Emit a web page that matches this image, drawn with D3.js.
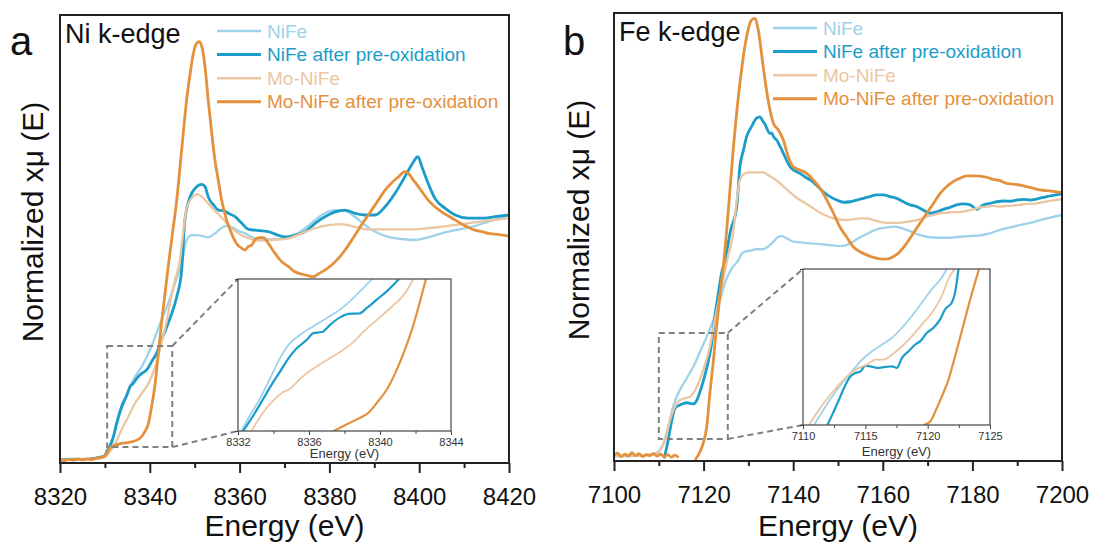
<!DOCTYPE html>
<html>
<head>
<meta charset="utf-8">
<title>Ni and Fe k-edge XANES</title>
<script src="https://d3js.org/d3.v7.min.js"></script>
<style>
  body { margin: 0; background: white; }
  svg { font-family: Arial, "Liberation Sans", sans-serif; }
</style>
</head>
<body>
<svg id="chart" width="1093" height="545"></svg>
<script>
// ---- data: [energy (eV), normalized xmu] ----
const seriesNames = ["NiFe", "NiFe after pre-oxidation", "Mo-NiFe", "Mo-NiFe after pre-oxidation"];
const seriesColors = ["#9dd2ea", "#1b9cc9", "#ebc6a2", "#e3913d"];

// Ni k-edge
const niNiFe = [[8320,0.004],[8323,0.002],[8326,0.006],[8328,0.01],[8330,0.02],[8330.4,0.036],[8331.1,0.063],[8332.3,0.125],[8333.4,0.193],[8334.5,0.247],[8335.6,0.302],[8336.7,0.342],[8338.2,0.383],[8339.7,0.438],[8341.2,0.506],[8342.6,0.574],[8344.1,0.642],[8345.6,0.724],[8347.1,0.806],[8348.2,0.90],[8349.3,0.921],[8350.4,0.921],[8351.6,0.918],[8353.0,0.912],[8354.5,0.928],[8356.0,0.951],[8357.1,0.959],[8358.2,0.955],[8359.4,0.941],[8361.2,0.928],[8363.4,0.908],[8366.4,0.903],[8370.1,0.908],[8372.3,0.921],[8374.6,0.949],[8376.8,0.983],[8379.0,1.010],[8381.3,1.023],[8383.5,1.020],[8385.7,0.996],[8387.9,0.962],[8390.2,0.935],[8393.1,0.914],[8396.1,0.905],[8399.1,0.901],[8402.0,0.912],[8405.0,0.928],[8408.0,0.941],[8411.7,0.955],[8415.4,0.976],[8420,1.003]];
const niNiFeOx = [[8320,0.002],[8323,0.006],[8326,0.004],[8328,0.01],[8330,0.02],[8330.4,0.036],[8331.1,0.057],[8331.9,0.097],[8332.6,0.152],[8333.7,0.220],[8334.9,0.268],[8335.6,0.302],[8336.3,0.315],[8337.1,0.336],[8338.2,0.356],[8339.3,0.370],[8340.4,0.404],[8341.5,0.438],[8342.6,0.492],[8343.8,0.547],[8344.9,0.601],[8346.0,0.669],[8347.1,0.778],[8347.8,0.98],[8349.0,1.078],[8350.1,1.112],[8351.6,1.128],[8352.3,1.119],[8353.0,1.078],[8354.2,1.044],[8355.3,1.023],[8356.4,1.021],[8357.5,1.010],[8359.0,0.996],[8360.5,0.969],[8362.0,0.944],[8363.4,0.941],[8366.4,0.935],[8370.1,0.914],[8372.3,0.921],[8374.6,0.935],[8376.8,0.969],[8379.0,0.996],[8381.3,1.016],[8383.5,1.023],[8385.7,1.010],[8387.9,1.003],[8390.2,1.003],[8392.4,1.037],[8394.6,1.091],[8396.8,1.159],[8398.3,1.207],[8399.7,1.241],[8400.6,1.200],[8402.0,1.132],[8403.5,1.071],[8405.8,1.030],[8408.0,1.003],[8410.9,0.990],[8413.9,0.990],[8416.9,0.996],[8420,1.003]];
const niMoNiFe = [[8320,0.0],[8323,0.004],[8326,0.002],[8328,0.006],[8330,0.014],[8330.8,0.029],[8332.3,0.070],[8333.7,0.125],[8335.2,0.179],[8336.7,0.234],[8338.2,0.274],[8339.7,0.315],[8341.2,0.383],[8342.6,0.479],[8343.8,0.574],[8344.5,0.642],[8345.6,0.737],[8346.7,0.819],[8347.1,0.88],[8348.2,1.030],[8349.3,1.071],[8350.4,1.088],[8351.6,1.078],[8353.0,1.050],[8354.5,1.021],[8356.0,0.993],[8357.5,0.962],[8359.7,0.928],[8362.0,0.908],[8364.2,0.898],[8367.1,0.901],[8370.9,0.908],[8373.8,0.928],[8376.8,0.949],[8379.8,0.962],[8382.7,0.966],[8385.7,0.955],[8388.7,0.944],[8391.6,0.944],[8396.1,0.944],[8399.1,0.944],[8402.0,0.949],[8405.0,0.955],[8409.5,0.966],[8413.9,0.976],[8420,0.990]];
const niMoNiFeOx = [[8320,0.004],[8321,0.0],[8322,0.006],[8323,0.002],[8324,0.007],[8325,0.003],[8326,0.008],[8327,0.004],[8328,0.01],[8329,0.012],[8330,0.018],[8331.1,0.050],[8332.5,0.064],[8333.7,0.070],[8335.9,0.076],[8337.8,0.091],[8338.9,0.118],[8339.7,0.152],[8340.4,0.220],[8341.2,0.315],[8341.9,0.438],[8342.6,0.560],[8343.4,0.683],[8344.1,0.793],[8345.0,0.92],[8346.0,1.064],[8347.1,1.269],[8348.2,1.473],[8349.0,1.582],[8349.7,1.663],[8350.4,1.704],[8351.0,1.711],[8351.6,1.690],[8352.3,1.609],[8353.0,1.473],[8353.8,1.337],[8354.5,1.228],[8355.3,1.139],[8356.0,1.064],[8357.1,0.983],[8358.2,0.928],[8359.3,0.887],[8360.5,0.867],[8361.2,0.860],[8361.9,0.874],[8362.7,0.880],[8363.4,0.901],[8364.3,0.911],[8365.3,0.911],[8366.4,0.887],[8367.9,0.846],[8369.4,0.812],[8370.9,0.792],[8372.3,0.771],[8373.8,0.762],[8375.3,0.755],[8376.4,0.751],[8377.5,0.762],[8379.0,0.778],[8380.5,0.799],[8382.0,0.826],[8383.5,0.860],[8385.0,0.901],[8386.4,0.941],[8387.9,0.983],[8389.4,1.023],[8390.9,1.064],[8392.4,1.105],[8393.9,1.135],[8395.4,1.159],[8396.8,1.180],[8397.6,1.173],[8398.7,1.146],[8399.8,1.119],[8400.9,1.091],[8402.0,1.064],[8403.5,1.037],[8405.0,1.016],[8406.5,0.999],[8408.0,0.983],[8409.5,0.966],[8410.9,0.953],[8412.4,0.941],[8413.9,0.935],[8415.4,0.928],[8416.9,0.925],[8420,0.917]];

// Ni inset (fraction of inset height)
const niInsetNiFe = [[8332.19,0],[8332.66,0.10],[8333.23,0.211],[8333.80,0.344],[8334.36,0.478],[8334.93,0.578],[8335.50,0.633],[8336.25,0.689],[8337.01,0.744],[8337.77,0.80],[8338.33,0.856],[8338.90,0.922],[8339.56,1.0]];
const niInsetNiFeOx = [[8332.28,0],[8332.85,0.1],[8333.42,0.211],[8333.98,0.322],[8334.36,0.389],[8334.84,0.478],[8335.31,0.544],[8335.88,0.6],[8336.25,0.644],[8336.73,0.651],[8337.20,0.7],[8337.77,0.749],[8338.24,0.771],[8338.81,0.773],[8339.28,0.811],[8339.85,0.867],[8340.41,0.922],[8341.07,1.0]];
const niInsetMoNiFe = [[8332.76,0],[8333.42,0.122],[8333.98,0.2],[8334.55,0.256],[8334.93,0.278],[8335.50,0.344],[8336.25,0.411],[8337.01,0.467],[8337.77,0.522],[8338.43,0.578],[8339.09,0.656],[8339.85,0.733],[8340.60,0.811],[8341.36,0.9],[8341.89,1.0]];
const niInsetMoNiFeOx = [[8337.39,0],[8337.95,0.033],[8338.71,0.078],[8339.37,0.122],[8339.85,0.189],[8340.41,0.278],[8340.89,0.389],[8341.36,0.522],[8341.83,0.678],[8342.21,0.833],[8342.59,1.0]];

// Fe k-edge
const feNiFe = [[7100,0.008],[7103,0.01],[7106,0.012],[7108,0.016],[7109.9,0.028],[7111.0,0.062],[7112.1,0.130],[7113.2,0.212],[7114.7,0.280],[7116.2,0.327],[7117.7,0.375],[7119.2,0.436],[7120.7,0.498],[7122.2,0.566],[7123.7,0.650],[7125.0,0.73],[7126.4,0.78],[7127.8,0.811],[7128.5,0.838],[7129.2,0.845],[7130.4,0.849],[7131.8,0.855],[7133.3,0.855],[7134.4,0.866],[7135.6,0.886],[7136.7,0.906],[7137.4,0.909],[7138.5,0.900],[7140.0,0.886],[7141.5,0.883],[7143.8,0.879],[7146.0,0.876],[7148.2,0.872],[7150.4,0.868],[7151.9,0.872],[7153.4,0.886],[7154.9,0.904],[7156.4,0.917],[7157.9,0.931],[7159.4,0.940],[7160.9,0.944],[7162.4,0.947],[7163.8,0.943],[7165.3,0.934],[7166.8,0.923],[7168.3,0.913],[7169.8,0.906],[7171.3,0.903],[7172.8,0.902],[7175.0,0.902],[7177.2,0.906],[7179.5,0.909],[7181.7,0.912],[7183.9,0.920],[7186.2,0.934],[7188.4,0.944],[7190.6,0.954],[7192.9,0.963],[7195.1,0.974],[7197.3,0.984],[7200,0.995]];
const feNiFeOx = [[7111.2,0.0],[7112.1,0.076],[7112.9,0.157],[7113.6,0.205],[7114.7,0.219],[7115.5,0.225],[7116.2,0.228],[7117.0,0.225],[7117.7,0.223],[7118.5,0.239],[7119.2,0.273],[7120.3,0.341],[7121.1,0.402],[7121.8,0.470],[7122.5,0.580],[7123.3,0.675],[7124.0,0.757],[7124.8,0.811],[7126.0,0.93],[7127.4,1.029],[7128.1,1.192],[7128.9,1.260],[7129.6,1.315],[7130.7,1.356],[7131.8,1.390],[7132.6,1.396],[7133.3,1.376],[7133.7,1.366],[7134.1,1.349],[7134.8,1.328],[7135.2,1.33],[7135.6,1.315],[7136.3,1.301],[7137.1,1.274],[7137.8,1.247],[7138.5,1.219],[7139.3,1.192],[7140.0,1.179],[7140.8,1.172],[7141.5,1.165],[7142.6,1.151],[7143.8,1.138],[7145.2,1.117],[7146.7,1.090],[7148.2,1.070],[7149.7,1.056],[7151.2,1.047],[7152.7,1.049],[7154.2,1.056],[7155.7,1.063],[7157.1,1.070],[7158.6,1.077],[7160.1,1.077],[7161.6,1.070],[7163.1,1.063],[7164.6,1.049],[7166.1,1.036],[7167.6,1.029],[7169.0,1.015],[7170.5,1.002],[7172.0,1.008],[7173.5,1.018],[7175.0,1.026],[7176.5,1.036],[7178.0,1.040],[7179.5,1.036],[7181.0,1.018],[7182.4,1.036],[7183.9,1.042],[7185.4,1.049],[7186.9,1.052],[7188.4,1.051],[7189.9,1.056],[7191.4,1.059],[7192.9,1.056],[7194.3,1.060],[7196.6,1.070],[7200,1.081]];
const feMoNiFe = [[7100,0.01],[7103,0.012],[7106,0.012],[7108,0.016],[7109.5,0.021],[7110.6,0.042],[7111.4,0.076],[7112.5,0.157],[7113.6,0.212],[7114.7,0.239],[7115.8,0.246],[7117.0,0.253],[7118.5,0.293],[7119.9,0.361],[7121.4,0.457],[7122.5,0.566],[7123.7,0.675],[7124.8,0.770],[7125.5,0.830],[7126.6,0.920],[7127.4,1.056],[7128.1,1.138],[7129.2,1.165],[7130.4,1.169],[7131.8,1.169],[7133.3,1.169],[7134.4,1.158],[7135.6,1.145],[7137.1,1.124],[7138.5,1.100],[7140.0,1.077],[7141.5,1.056],[7143.0,1.040],[7144.5,1.022],[7146.0,1.004],[7147.5,0.991],[7149.0,0.981],[7150.4,0.977],[7151.9,0.974],[7153.4,0.977],[7154.9,0.981],[7156.4,0.981],[7157.9,0.974],[7159.4,0.967],[7160.9,0.963],[7162.4,0.963],[7163.8,0.963],[7165.3,0.967],[7166.8,0.971],[7168.3,0.977],[7169.8,0.988],[7171.3,0.995],[7172.8,1.002],[7174.3,1.004],[7175.7,1.007],[7177.2,1.007],[7178.7,1.012],[7180.2,1.018],[7181.7,1.026],[7183.2,1.029],[7184.7,1.032],[7186.2,1.029],[7187.6,1.032],[7189.1,1.033],[7190.6,1.036],[7192.1,1.040],[7193.6,1.040],[7195.1,1.045],[7196.6,1.051],[7200,1.059]];
const feMoNiFeOx = [[7100,0.012],[7100.8,0.022],[7101.6,0.008],[7102.4,0.018],[7103.2,0.01],[7104,0.024],[7104.8,0.012],[7105.6,0.02],[7106.4,0.008],[7107.2,0.016],[7108,0.012],[7108.8,0.02],[7109.6,0.01],[7110.4,0.018],[7111.2,0.008],[7112,0.016],[7112.8,0.006],[7113.6,0.014],[7114.4,0.004],[7116,null],[7118.1,-0.006],[7119.2,0.028],[7119.9,0.062],[7120.7,0.130],[7121.4,0.266],[7122.2,0.402],[7122.9,0.539],[7123.7,0.675],[7124.4,0.784],[7125.1,0.920],[7126.6,1.260],[7128.1,1.533],[7129.6,1.723],[7130.7,1.791],[7131.5,1.798],[7132.2,1.750],[7133.3,1.601],[7134.4,1.465],[7135.6,1.369],[7136.7,1.342],[7137.8,1.301],[7138.9,1.233],[7140.0,1.192],[7141.5,1.179],[7143.0,1.165],[7144.5,1.138],[7146.0,1.104],[7147.5,1.056],[7149.0,1.002],[7150.4,0.947],[7151.9,0.906],[7153.4,0.865],[7154.9,0.845],[7156.4,0.832],[7157.9,0.822],[7159.4,0.816],[7160.9,0.815],[7162.4,0.825],[7163.8,0.845],[7165.3,0.879],[7166.8,0.920],[7168.3,0.961],[7169.8,1.002],[7171.3,1.042],[7172.8,1.083],[7174.3,1.111],[7175.7,1.131],[7177.2,1.145],[7178.7,1.155],[7180.2,1.155],[7181.7,1.154],[7183.2,1.149],[7184.7,1.140],[7186.2,1.135],[7187.6,1.124],[7189.1,1.121],[7190.6,1.117],[7192.1,1.111],[7193.6,1.104],[7195.1,1.097],[7196.6,1.094],[7200,1.086]];

// Fe inset (fraction of inset height)
const feInsetNiFe = [[7110.88,0],[7111.55,0.086],[7112.34,0.183],[7113.14,0.269],[7113.94,0.344],[7114.74,0.419],[7115.54,0.473],[7116.34,0.516],[7117.14,0.559],[7117.94,0.624],[7118.74,0.699],[7119.54,0.785],[7120.34,0.871],[7121.14,0.946],[7121.54,1.0]];
const feInsetNiFeOx = [[7111.95,0],[7112.34,0.065],[7112.88,0.161],[7113.41,0.258],[7113.81,0.312],[7114.21,0.333],[7114.61,0.344],[7115.01,0.381],[7115.41,0.376],[7115.94,0.366],[7116.61,0.372],[7117.14,0.376],[7117.54,0.366],[7117.94,0.430],[7118.47,0.473],[7119.01,0.516],[7119.41,0.538],[7119.94,0.591],[7120.47,0.624],[7121.00,0.677],[7121.40,0.742],[7121.94,0.785],[7122.20,0.849],[7122.47,1.0]];
const feInsetMoNiFe = [[7110.48,0],[7111.28,0.097],[7112.08,0.183],[7112.88,0.258],[7113.68,0.323],[7114.48,0.366],[7115.14,0.387],[7115.81,0.419],[7116.47,0.419],[7117.14,0.452],[7117.94,0.505],[7118.74,0.570],[7119.54,0.645],[7120.34,0.720],[7121.14,0.828],[7121.67,0.935],[7122.15,1.0]];
const feInsetMoNiFeOx = [[7119.67,0],[7120.21,0.022],[7120.61,0.086],[7121.14,0.183],[7121.67,0.290],[7122.20,0.441],[7122.74,0.602],[7123.27,0.763],[7123.80,0.914],[7124.12,1.0]];

// axis ticks
const niTicks = [8320, 8340, 8360, 8380, 8400, 8420];
const feTicks = [7100, 7120, 7140, 7160, 7180, 7200];
const niInsetTicks = [8332, 8336, 8340, 8344];
const feInsetTicks = [7110, 7115, 7120, 7125];

const FONT = 'Arial, "Liberation Sans", sans-serif';
const yDomain = [-0.01, 1.82];
const svg = d3.select("#chart");

function drawPanel(p) {
  const g = svg.append("g").attr("transform", `translate(${p.left},${p.top})`);
  const x = d3.scaleLinear().domain(p.xDomain).range([0, p.w]);
  const y = d3.scaleLinear().domain(yDomain).range([p.h, 0]);

  const clipId = "clip-" + p.letter;
  g.append("clipPath").attr("id", clipId)
    .append("rect").attr("width", p.w).attr("height", p.h);

  const line = d3.line()
    .defined(d => d[1] != null)
    .x(d => x(d[0])).y(d => y(d[1]))
    .curve(d3.curveMonotoneX);

  g.append("g").attr("clip-path", `url(#${clipId})`)
    .selectAll("path").data(p.series).join("path")
    .attr("d", d => line(d))
    .attr("fill", "none")
    .attr("stroke", (d, i) => seriesColors[i])
    .attr("stroke-width", (d, i) => i % 2 ? 2.8 : 2.3)
    .attr("stroke-linejoin", "round");

  // major and minor ticks
  const minor = d3.range(p.xDomain[0] + 10, p.xDomain[1], 20);
  g.append("g").attr("transform", `translate(0,${p.h})`)
    .call(d3.axisBottom(x).tickValues(minor).tickSize(5).tickFormat(""))
    .call(s => s.select(".domain").remove())
    .call(s => s.selectAll("line").attr("stroke", "#222").attr("stroke-width", 2));
  g.append("g").attr("transform", `translate(0,${p.h})`)
    .call(d3.axisBottom(x).tickValues(p.ticks).tickSize(10).tickPadding(15).tickFormat(d3.format("d")))
    .attr("font-family", FONT).attr("font-size", 24)
    .call(s => s.select(".domain").remove())
    .call(s => s.selectAll("line").attr("stroke", "#222").attr("stroke-width", 2))
    .call(s => s.selectAll("text").attr("fill", "#111"));

  g.append("rect").attr("width", p.w).attr("height", p.h)
    .attr("fill", "none").attr("stroke", "#222").attr("stroke-width", 2);

  // axis titles
  g.append("text")
    .attr("x", p.w / 2).attr("y", 536 - p.top)
    .attr("text-anchor", "middle").attr("font-size", 30).attr("fill", "#111")
    .text("Energy (eV)");
  g.append("text")
    .attr("transform", `translate(${p.ylabelX - p.left},${p.ylabelY - p.top}) rotate(-90)`)
    .attr("text-anchor", "middle").attr("dy", "0.35em")
    .attr("font-size", 30).attr("fill", "#111")
    .text("Normalized x\u03bc (E)");

  // panel letter and edge name
  svg.append("text").attr("x", p.letterX).attr("y", 55)
    .attr("font-family", FONT).attr("font-size", 40).attr("fill", "#111")
    .text(p.letter);
  g.append("text").attr("x", 5).attr("y", 28)
    .attr("font-size", 27).attr("fill", "#111")
    .text(p.title);

  // legend
  const leg = g.append("g").attr("transform", `translate(${p.legendX - p.left},${p.legendY - p.top})`);
  seriesNames.forEach((name, i) => {
    const row = leg.append("g").attr("transform", `translate(0,${i * 23.6})`);
    row.append("line").attr("x1", 0).attr("x2", 44)
      .attr("stroke", seriesColors[i]).attr("stroke-width", i % 2 ? 3 : 2.5);
    row.append("text").attr("x", 50).attr("dy", "0.35em")
      .attr("font-size", 19).attr("fill", seriesColors[i])
      .text(name);
  });

  // zoom box + connectors
  const bx0 = x(p.box[0]), bx1 = x(p.box[1]);
  const by0 = y(p.box[3]), by1 = y(p.box[2]);
  const ins = p.inset;
  const dash = g.append("g").attr("fill", "none").attr("stroke", "#808080")
    .attr("stroke-width", 2).attr("stroke-dasharray", "6,4");
  dash.append("rect").attr("x", bx0).attr("y", by0)
    .attr("width", bx1 - bx0).attr("height", by1 - by0);
  dash.append("line").attr("x1", bx1).attr("y1", by0).attr("x2", ins.x).attr("y2", ins.y);
  dash.append("line").attr("x1", bx1).attr("y1", by1).attr("x2", ins.x).attr("y2", ins.y + ins.h);

  // inset
  const ig = g.append("g").attr("transform", `translate(${ins.x},${ins.y})`);
  const ix = d3.scaleLinear().domain([ins.ticks[0], ins.ticks[ins.ticks.length - 1]]).range([0, ins.w]);
  const iy = d3.scaleLinear().domain([0, 1]).range([ins.h, 0]);
  ig.append("rect").attr("width", ins.w).attr("height", ins.h).attr("fill", "white");
  ig.append("clipPath").attr("id", clipId + "-in")
    .append("rect").attr("width", ins.w).attr("height", ins.h);
  const iline = d3.line().x(d => ix(d[0])).y(d => iy(d[1])).curve(d3.curveMonotoneX);
  ig.append("g").attr("clip-path", `url(#${clipId}-in)`)
    .selectAll("path").data(ins.series).join("path")
    .attr("d", d => iline(d))
    .attr("fill", "none")
    .attr("stroke", (d, i) => seriesColors[i])
    .attr("stroke-width", (d, i) => i % 2 ? 2.2 : 1.8);

  const step = (ins.ticks[1] - ins.ticks[0]) / 2;
  ig.append("g").attr("transform", `translate(0,${ins.h})`)
    .call(d3.axisBottom(ix).tickValues(d3.range(ins.ticks[0] + step, ins.ticks[ins.ticks.length - 1], step * 2)).tickSize(3).tickFormat(""))
    .call(s => s.select(".domain").remove())
    .call(s => s.selectAll("line").attr("stroke", "#444"));
  ig.append("g").attr("transform", `translate(0,${ins.h})`)
    .call(d3.axisBottom(ix).tickValues(ins.ticks).tickSize(4).tickPadding(3).tickFormat(d3.format("d")))
    .attr("font-family", FONT).attr("font-size", 11)
    .call(s => s.select(".domain").remove())
    .call(s => s.selectAll("line").attr("stroke", "#444"))
    .call(s => s.selectAll("text").attr("fill", "#333"));
  ig.append("g")
    .call(d3.axisLeft(iy).tickValues([0, 1]).tickSize(3).tickFormat(""))
    .call(s => s.select(".domain").remove())
    .call(s => s.selectAll("line").attr("stroke", "#444"));
  ig.append("rect").attr("width", ins.w).attr("height", ins.h)
    .attr("fill", "none").attr("stroke", "#444").attr("stroke-width", 1.2);
  ig.append("text").attr("x", ins.w / 2).attr("y", ins.h + ins.labelDy)
    .attr("text-anchor", "middle").attr("font-size", 13).attr("fill", "#333")
    .text("Energy (eV)");
}

drawPanel({
  letter: "a", letterX: 10, title: "Ni k-edge",
  left: 60, top: 15, w: 449, h: 448,
  xDomain: [8320, 8420], ticks: niTicks,
  series: [niNiFe, niNiFeOx, niMoNiFe, niMoNiFeOx],
  legendX: 217, legendY: 31, ylabelX: 32, ylabelY: 222,
  box: [8330.5, 8345, 0.055, 0.468],
  inset: { x: 178, y: 264, w: 213, h: 152, ticks: niInsetTicks, labelDy: 27,
           series: [niInsetNiFe, niInsetNiFeOx, niInsetMoNiFe, niInsetMoNiFeOx] }
});

drawPanel({
  letter: "b", letterX: 563, title: "Fe k-edge",
  left: 614, top: 13, w: 448, h: 448,
  xDomain: [7100, 7200], ticks: feTicks,
  series: [feNiFe, feNiFeOx, feMoNiFe, feMoNiFeOx],
  legendX: 773, legendY: 28, ylabelX: 578, ylabelY: 220,
  box: [7110, 7125.4, 0.080, 0.513],
  inset: { x: 189, y: 256, w: 187, h: 156, ticks: feInsetTicks, labelDy: 31,
           series: [feInsetNiFe, feInsetNiFeOx, feInsetMoNiFe, feInsetMoNiFeOx] }
});
</script>
</body>
</html>
